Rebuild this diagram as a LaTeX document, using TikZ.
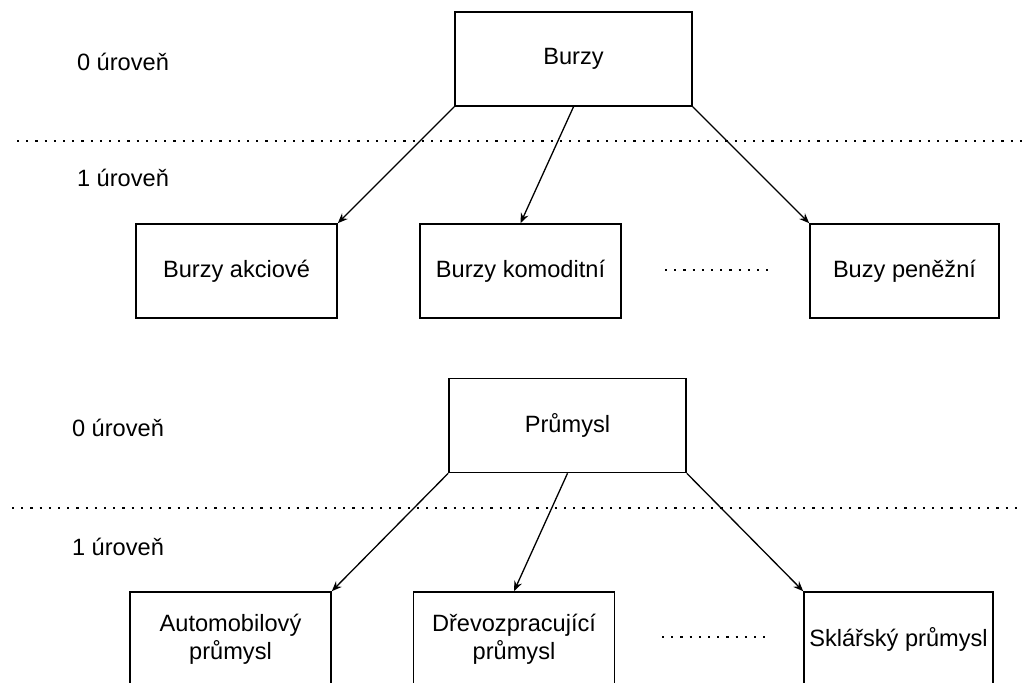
\documentclass[tikz,border=0pt]{standalone}
\usepackage{fontspec}
\setmainfont{Liberation Sans}
\usetikzlibrary{arrows.meta,positioning}

\begin{document}
\begin{tikzpicture}[
x=0.5pt, y=-0.5pt,
box/.style={draw, line width=0.8pt, minimum width=100.5pt, minimum height=47pt, inner sep=0pt, align=center, font=\fontsize{11.8}{14}\selectfont},
topbox/.style={box, minimum width=118.5pt},
narrowbox/.style={box, minimum width=94.5pt},
level/.style={font=\fontsize{11.8}{14}\selectfont, inner sep=0pt},
arrow/.style={-{Stealth[length=5pt,width=4pt]}, line width=0.65pt},
dots/.style={line width=1.1pt, dash pattern=on 1.1pt off 3.5pt}
]
\useasboundingbox (0,0) rectangle (1024,682);
\clip (0,0) rectangle (1024,682);
% first tree
\node[topbox] (burzy) at (573.5,59) {Burzy};
\node[box] (akciove) at (236.5,271) {Burzy akciové};
\node[box] (komoditni) at (520.5,271) {Burzy komoditní};
\node[narrowbox] (penezni) at (904.5,271) {Buzy peněžní};
\node[level] (l0a) at (123,62) {0 úroveň};
\node[level] (l1a) at (123,178) {1 úroveň};
\draw[dots] (17,141) -- (1022,141);
\draw[dots] (665,270) -- (770,270);
\draw[arrow] (burzy.south west) -- (akciove.north east);
\draw[arrow] (burzy.south) -- (komoditni.north);
\draw[arrow] (burzy.south east) -- (penezni.north west);
% second tree
\node[topbox] (prumysl) at (567.5,425.5) {Průmysl};
\node[box] (auto) at (230.5,639) {Automobilový\\průmysl};
\node[box] (drevo) at (514,639) {Dřevozpracující\\průmysl};
\node[narrowbox] (sklar) at (898.5,639) {Sklářský průmysl};
\node[level] (l0b) at (118,428) {0 úroveň};
\node[level] (l1b) at (118,547) {1 úroveň};
\draw[dots] (12,508) -- (1022,508);
\draw[dots] (662,637) -- (768,637);
\draw[arrow] (prumysl.south west) -- (auto.north east);
\draw[arrow] (prumysl.south) -- (drevo.north);
\draw[arrow] (prumysl.south east) -- (sklar.north west);
\end{tikzpicture}
\end{document}
